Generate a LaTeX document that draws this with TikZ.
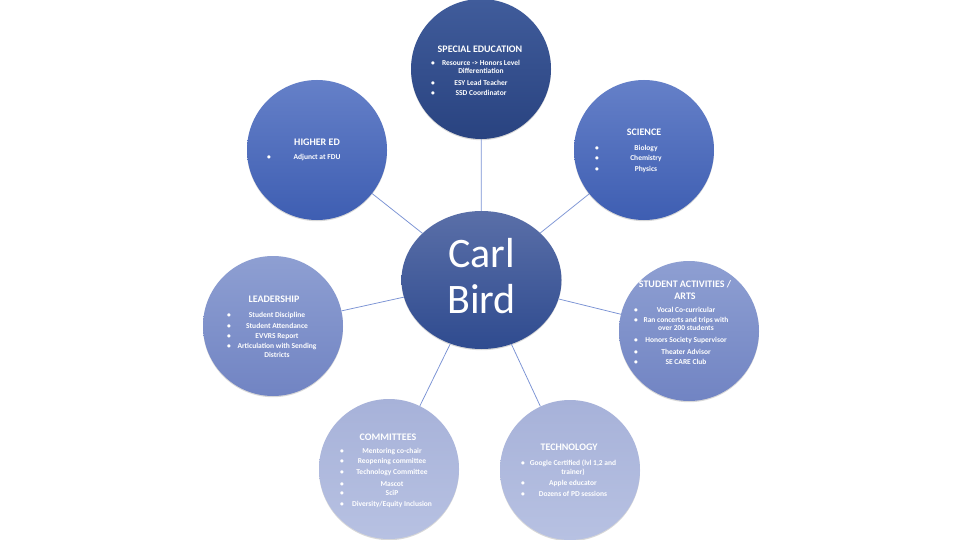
\documentclass[tikz,border=0pt]{standalone}
\usepackage{fontspec}
\setmainfont{Carlito}
\usetikzlibrary{shapes.geometric,shadows}
\newlength{\du}
\setlength{\du}{1\unitlength}

\begin{document}
\begin{tikzpicture}[x=1\du,y=-1\du,
  bubble/.style={circle,minimum size=140\du,inner sep=0pt,
    drop shadow={shadow xshift=0pt,shadow yshift=-1.2pt,opacity=0.3}},
  hub/.style={ellipse,minimum width=160\du,minimum height=138\du,inner sep=0pt,
    drop shadow={shadow xshift=0pt,shadow yshift=-1.2pt,opacity=0.3}},
  hubtext/.style={text=white,inner sep=0pt,text height=27\du,text depth=0pt,
    font=\fontsize{42}{46}\selectfont},
  head/.style={text=white,inner sep=0pt,text height=6.6\du,text depth=0pt,
    font=\bfseries\fontsize{10}{12}\selectfont},
  entry/.style={text=white,inner sep=0pt,text height=5.4\du,text depth=0pt,
    font=\bfseries\fontsize{7.5}{9}\selectfont},
  link/.style={draw=linkcolor,line width=0.75\du}]
\definecolor{linkcolor}{rgb}{0.478431, 0.572549, 0.831373}
\definecolor{hubtop}{rgb}{0.352941, 0.435294, 0.658824}
\definecolor{hubbot}{rgb}{0.184314, 0.294118, 0.560784}
\definecolor{darktop}{rgb}{0.250980, 0.360784, 0.607843}
\definecolor{darkbot}{rgb}{0.160784, 0.262745, 0.501961}
\definecolor{midtop}{rgb}{0.396078, 0.501961, 0.784314}
\definecolor{midbot}{rgb}{0.243137, 0.368627, 0.698039}
\definecolor{lighttop}{rgb}{0.556863, 0.623529, 0.823529}
\definecolor{lightbot}{rgb}{0.443137, 0.517647, 0.764706}
\definecolor{paletop}{rgb}{0.654902, 0.698039, 0.850980}
\definecolor{palebot}{rgb}{0.717647, 0.756863, 0.886275}
\fill[white] (0,0) rectangle (960,540);
\useasboundingbox (0,0) rectangle (960,540);

% circles
\node[hub,top color=hubtop,bottom color=hubbot] (carl) at (481.5,280) {};
\node[bubble,top color=darktop,bottom color=darkbot] (sped) at (481,69) {};
\node[bubble,top color=midtop,bottom color=midbot] (high) at (317,150) {};
\node[bubble,top color=midtop,bottom color=midbot] (sci) at (644,150) {};
\node[bubble,top color=lighttop,bottom color=lightbot] (lead) at (273,326) {};
\node[bubble,top color=lighttop,bottom color=lightbot] (arts) at (689,331) {};
\node[bubble,top color=paletop,bottom color=palebot] (comm) at (389,469) {};
\node[bubble,top color=paletop,bottom color=palebot] (tech) at (570,470) {};

% links
\draw[link] (carl) -- (sped);
\draw[link] (carl) -- (high);
\draw[link] (carl) -- (sci);
\draw[link] (carl) -- (lead);
\draw[link] (carl) -- (arts);
\draw[link] (carl) -- (comm);
\draw[link] (carl) -- (tech);

% name
\node[hubtext] (carl-1) at (481.5,253.5) {Carl};
\node[hubtext] (carl-2) at (481.5,300) {Bird};

% special education
\node[head] (sped-t) at (480,49) {SPECIAL EDUCATION};
\node[entry] (sped-1) at (481,63) {Resource -> Honors Level};
\node[entry] (sped-1b) at (481,71) {Differentiation};
\node[entry] (sped-2) at (481,83) {ESY Lead Teacher};
\node[entry] (sped-3) at (481,93) {SSD Coordinator};
\node[entry] (sped-d1) at (433,63) {\textbullet};
\node[entry] (sped-d2) at (433,83) {\textbullet};
\node[entry] (sped-d3) at (433,93) {\textbullet};

% higher ed
\node[head] (high-t) at (317,142) {HIGHER ED};
\node[entry] (high-1) at (317,157) {Adjunct at FDU};
\node[entry] (high-d1) at (269,157) {\textbullet};

% science
\node[head] (sci-t) at (644,132) {SCIENCE};
\node[entry] (sci-1) at (646,148) {Biology};
\node[entry] (sci-2) at (646,158) {Chemistry};
\node[entry] (sci-3) at (646,169) {Physics};
\node[entry] (sci-d1) at (597,148) {\textbullet};
\node[entry] (sci-d2) at (597,158) {\textbullet};
\node[entry] (sci-d3) at (597,169) {\textbullet};

% leadership
\node[head] (lead-t) at (274,299) {LEADERSHIP};
\node[entry] (lead-1) at (277,315) {Student Discipline};
\node[entry] (lead-2) at (277,326) {Student Attendance};
\node[entry] (lead-3) at (277,336) {EVVRS Report};
\node[entry] (lead-4) at (277,346) {Articulation with Sending};
\node[entry] (lead-4b) at (277,355) {Districts};
\node[entry] (lead-d1) at (229,315) {\textbullet};
\node[entry] (lead-d2) at (229,326) {\textbullet};
\node[entry] (lead-d3) at (229,336) {\textbullet};
\node[entry] (lead-d4) at (229,346) {\textbullet};

% student activities / arts
\node[head] (arts-t) at (685,284) {STUDENT ACTIVITIES /};
\node[head] (arts-tb) at (685,296) {ARTS};
\node[entry] (arts-1) at (686,310) {Vocal Co-curricular};
\node[entry] (arts-2) at (686,320) {Ran concerts and trips with};
\node[entry] (arts-2b) at (686,328) {over 200 students};
\node[entry] (arts-3) at (686,340) {Honors Society Supervisor};
\node[entry] (arts-4) at (686,352) {Theater Advisor};
\node[entry] (arts-5) at (686,362) {SE CARE Club};
\node[entry] (arts-d1) at (636,310) {\textbullet};
\node[entry] (arts-d2) at (636,320) {\textbullet};
\node[entry] (arts-d3) at (636,340) {\textbullet};
\node[entry] (arts-d4) at (636,352) {\textbullet};
\node[entry] (arts-d5) at (636,362) {\textbullet};

% committees
\node[head] (comm-t) at (388,437) {COMMITTEES};
\node[entry] (comm-1) at (392,451) {Mentoring co-chair};
\node[entry] (comm-2) at (392,461) {Reopening committee};
\node[entry] (comm-3) at (392,472) {Technology Committee};
\node[entry] (comm-4) at (392,484) {Mascot};
\node[entry] (comm-5) at (392,493) {SciP};
\node[entry] (comm-6) at (392,504) {Diversity/Equity Inclusion};
\node[entry] (comm-d1) at (342,451) {\textbullet};
\node[entry] (comm-d2) at (342,461) {\textbullet};
\node[entry] (comm-d3) at (342,472) {\textbullet};
\node[entry] (comm-d4) at (342,484) {\textbullet};
\node[entry] (comm-d5) at (342,493) {\textbullet};
\node[entry] (comm-d6) at (342,504) {\textbullet};

% technology
\node[head] (tech-t) at (569,447) {TECHNOLOGY};
\node[entry] (tech-1) at (573,463) {Google Certified (lvl 1,2 and};
\node[entry] (tech-1b) at (573,472) {trainer)};
\node[entry] (tech-2) at (573,483) {Apple educator};
\node[entry] (tech-3) at (573,494) {Dozens of PD sessions};
\node[entry] (tech-d1) at (523,463) {\textbullet};
\node[entry] (tech-d2) at (523,483) {\textbullet};
\node[entry] (tech-d3) at (523,494) {\textbullet};
\end{tikzpicture}
\end{document}
